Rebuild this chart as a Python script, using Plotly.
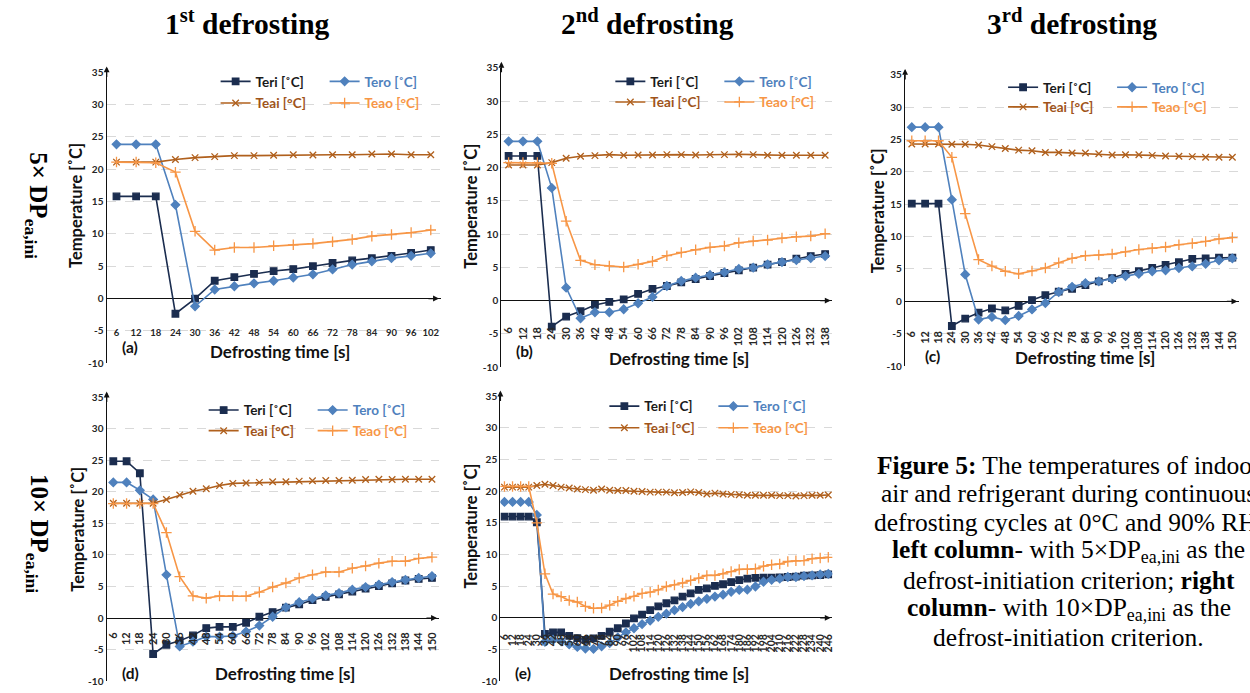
import plotly.graph_objects as go

W, H = 1250, 693
FONT = "Lato"
SERIF = "Liberation Serif"

# ---------------- data ----------------
Y_TICKS = [-10, -5, 0, 5, 10, 15, 20, 25, 30, 35]

A_TIME = [6, 12, 18, 24, 30, 36, 42, 48, 54, 60, 66, 72, 78, 84, 90, 96, 102]
A_TERI = [15.8, 15.8, 15.8, -2.35, 0.0, 2.75, 3.3, 3.8, 4.25, 4.55, 5.0, 5.5, 5.9, 6.25, 6.6, 7.05, 7.5]
A_TERO = [23.85, 23.85, 23.85, 14.5, -1.2, 1.4, 1.9, 2.35, 2.75, 3.25, 3.75, 4.5, 5.25, 5.75, 6.25, 6.6, 7.0]
A_TEAI = [21.1, 21.1, 21.1, 21.5, 21.8, 21.95, 22.1, 22.1, 22.15, 22.25, 22.2, 22.25, 22.25, 22.35, 22.35, 22.25, 22.25]
A_TEAO = [21.1, 21.1, 21.0, 19.55, 10.4, 7.5, 7.9, 7.9, 8.15, 8.3, 8.5, 8.8, 9.15, 9.65, 9.9, 10.2, 10.6]

B_TIME = [6, 12, 18, 24, 30, 36, 42, 48, 54, 60, 66, 72, 78, 84, 90, 96, 102, 108, 114, 120, 126, 132, 138]
B_TERI = [21.75, 21.75, 21.75, -3.9, -2.4, -1.6, -0.65, -0.2, 0.2, 1.0, 1.75, 2.2, 2.75, 3.25, 3.7, 4.15, 4.55, 4.95, 5.4, 5.8, 6.3, 6.7, 7.0]
B_TERO = [23.95, 23.95, 23.95, 16.95, 1.95, -2.65, -1.75, -1.75, -1.3, -0.4, 0.55, 2.2, 2.95, 3.45, 3.85, 4.25, 4.75, 4.95, 5.45, 5.8, 6.1, 6.4, 6.7]
B_TEAI = [20.4, 20.4, 20.4, 20.75, 21.4, 21.7, 21.8, 21.95, 21.85, 21.9, 21.9, 21.95, 21.95, 21.9, 21.95, 21.95, 22.0, 21.95, 21.85, 21.85, 21.85, 21.85, 21.85]
B_TEAO = [20.75, 20.75, 20.75, 20.65, 11.95, 6.05, 5.4, 5.2, 5.05, 5.45, 5.9, 6.75, 7.25, 7.65, 8.0, 8.2, 8.7, 8.95, 9.1, 9.4, 9.6, 9.7, 10.05]

C_TIME = [6, 12, 18, 24, 30, 36, 42, 48, 54, 60, 66, 72, 78, 84, 90, 96, 102, 108, 114, 120, 126, 132, 138, 144, 150]
C_TERI = [15.1, 15.1, 15.1, -3.8, -2.65, -1.75, -1.1, -1.4, -0.7, 0.2, 0.95, 1.5, 1.95, 2.5, 3.1, 3.6, 4.25, 4.65, 5.15, 5.65, 6.05, 6.55, 6.65, 6.75, 6.75]
C_TERO = [26.9, 26.9, 26.9, 15.7, 4.15, -2.8, -2.4, -2.9, -2.25, -1.25, -0.25, 1.45, 2.25, 2.8, 3.1, 3.45, 3.9, 4.25, 4.65, 4.8, 5.15, 5.4, 5.8, 6.35, 6.65]
C_TEAI = [24.3, 24.3, 24.3, 24.25, 24.25, 24.15, 23.9, 23.6, 23.35, 23.25, 23.0, 23.0, 22.9, 22.9, 22.8, 22.6, 22.65, 22.65, 22.55, 22.45, 22.4, 22.35, 22.25, 22.25, 22.25]
C_TEAO = [24.8, 24.8, 24.8, 22.25, 13.55, 6.45, 5.45, 4.65, 4.25, 4.7, 5.15, 5.95, 6.65, 7.05, 7.15, 7.3, 7.65, 8.0, 8.2, 8.4, 8.75, 8.95, 9.25, 9.65, 9.85]

D_TIME = [6, 12, 18, 24, 30, 36, 42, 48, 54, 60, 66, 72, 78, 84, 90, 96, 102, 108, 114, 120, 126, 132, 138, 144, 150]
D_TERI = [24.85, 24.85, 22.95, -5.7, -4.25, -3.6, -2.75, -1.6, -1.4, -1.4, -0.75, 0.2, 0.95, 1.65, 2.15, 2.85, 3.35, 3.75, 4.2, 4.65, 5.05, 5.5, 5.95, 6.2, 6.35]
D_TERO = [21.5, 21.5, 20.25, 18.8, 6.85, -4.5, -3.75, -2.95, -2.95, -2.85, -2.15, -1.2, 0.2, 1.7, 2.5, 3.1, 3.6, 3.95, 4.5, 4.9, 5.3, 5.7, 6.05, 6.35, 6.65]
D_TEAI = [18.2, 18.2, 18.2, 18.2, 18.8, 19.5, 20.1, 20.5, 21.0, 21.35, 21.4, 21.5, 21.6, 21.6, 21.7, 21.75, 21.8, 21.8, 21.85, 21.95, 22.0, 21.95, 22.0, 22.0, 22.0]
D_TEAO = [18.15, 18.15, 18.15, 18.15, 13.55, 6.55, 3.5, 3.15, 3.5, 3.5, 3.45, 4.1, 4.9, 5.55, 6.35, 6.85, 7.3, 7.3, 7.9, 8.25, 8.7, 9.0, 9.0, 9.45, 9.65]

E_TIME = [6, 12, 18, 24, 30, 36, 42, 48, 54, 60, 66, 72, 78, 84, 90, 96, 102, 108, 114, 120,
          126, 132, 138, 144, 150, 156, 162, 168, 174, 180, 186, 192, 198, 204, 210, 216, 222, 228, 234, 240, 246]
E_TERI = [16.0, 16.0, 16.0, 16.0, 15.1, -2.55, -2.3, -2.3, -2.85, -3.2, -3.5, -3.25, -2.85, -2.2, -1.65, -0.9, -0.1, 0.5, 1.2, 1.8,
          2.3, 2.75, 3.35, 3.85, 4.4, 4.65, 5.05, 5.3, 5.65, 5.95, 6.2, 6.3, 6.35, 6.35, 6.4, 6.45, 6.5, 6.65, 6.7, 6.75, 6.85]
E_TERO = [18.3, 18.3, 18.3, 18.3, 16.25, -3.8, -3.45, -3.7, -4.2, -4.6, -4.85, -4.9, -4.5, -4.0, -3.1, -2.3, -1.65, -1.0, -0.45, 0.15,
          0.65, 1.2, 1.7, 2.2, 2.6, 3.0, 3.35, 3.65, 4.1, 4.4, 4.45, 4.95, 5.7, 6.0, 6.2, 6.45, 6.45, 6.6, 6.7, 6.85, 6.95]
E_TEAI = [20.65, 20.65, 20.65, 20.65, 20.9, 21.1, 20.9, 20.65, 20.5, 20.35, 20.25, 20.15, 20.35, 20.15, 20.1, 20.1, 20.0, 19.95, 19.85, 19.85,
          19.85, 19.75, 19.8, 19.9, 19.8, 19.55, 19.7, 19.55, 19.5, 19.45, 19.35, 19.35, 19.35, 19.35, 19.3, 19.3, 19.25, 19.3, 19.35, 19.35, 19.4]
E_TEAO = [20.75, 20.75, 20.75, 20.75, 15.0, 6.95, 3.75, 3.35, 2.75, 2.5, 1.8, 1.5, 1.55, 2.0, 2.6, 3.05, 3.4, 3.85, 4.05, 4.4,
          4.95, 5.2, 5.5, 5.9, 6.25, 6.7, 6.7, 6.95, 7.3, 7.65, 7.65, 7.75, 8.15, 8.4, 8.5, 8.9, 9.0, 9.05, 9.35, 9.45, 9.55]

SERIES_NAMES = ["Teri [˚C]", "Tero [˚C]", "Teai [°C]", "Teao [°C]"]
PANEL_LETTERS = ["(a)", "(b)", "(c)", "(d)", "(e)"]
COL_TITLES = ["1<sup>st</sup> defrosting", "2<sup>nd</sup> defrosting", "3<sup>rd</sup> defrosting"]
ROW_TITLES = ["5× DP<sub>ea,ini</sub>", "10× DP<sub>ea,ini</sub>"]
X_TITLE = "Defrosting time [s]"
Y_TITLE = "Temperature [˚C]"
CAPTION = [
    "<b>Figure 5:</b> The temperatures of indoor",
    "air and refrigerant during continuous",
    "defrosting cycles at 0°C and 90% RH;",
    "<b>left column</b>- with 5×DP<sub>ea,ini</sub> as the",
    "defrost-initiation criterion; <b>right</b>",
    "<b>column</b>- with 10×DP<sub>ea,ini</sub> as the",
    "defrost-initiation criterion.",
]

PANEL_DATA = [
    (A_TIME, [A_TERI, A_TERO, A_TEAI, A_TEAO]),
    (B_TIME, [B_TERI, B_TERO, B_TEAI, B_TEAO]),
    (C_TIME, [C_TERI, C_TERO, C_TEAI, C_TEAO]),
    (D_TIME, [D_TERI, D_TERO, D_TEAI, D_TEAO]),
    (E_TIME, [E_TERI, E_TERO, E_TEAI, E_TEAO]),
]

# ---------------- styles / layout (pixels) ----------------
LINE_COLORS = ["#1b2d4f", "#4f81bd", "#b0601d", "#f79646"]
TEXT_COLORS = ["#1a1a1a", "#4f81bd", "#a0541a", "#f79646"]
SYMBOLS = ["square", "diamond", "x-thin-open", "cross-thin-open"]
MSIZES = [6.5, 6.5, 6.5, 7.5]

GEOM = [
    dict(x0=104, x1=439, yt=66.5, yb=363, ax=325, ang=0, ts=9.5, let=(127, 347), xt=(278, 351),
         yt_xy=(73, 202), lr=432, ly=(76, 98)),
    dict(x0=500, x1=832, yt=62, yb=367, ax=323, ang=-90, ts=11, let=(523, 351), xt=(678, 358),
         yt_xy=(470, 203), lr=828, ly=(76, 97)),
    dict(x0=905, x1=1240, yt=69, yb=366, ax=327, ang=-90, ts=11, let=(932, 356), xt=(1085, 357),
         yt_xy=(878, 208), lr=1222, ly=(82, 102)),
    dict(x0=104, x1=437, yt=397.7, yb=687, ax=634, ang=-90, ts=11, let=(128, 679), xt=(283, 679),
         yt_xy=(75, 532), lr=420, ly=(411, 432)),
    dict(x0=499, x1=832, yt=396.7, yb=687, ax=636, ang=-90, ts=10.5, let=(522, 679), xt=(678, 679),
         yt_xy=(470, 529), lr=822, ly=(407, 429)),
]


def xp(px):
    return px / W


def yp(py):
    return 1 - py / H


fig = go.Figure()
layout = dict(
    width=W, height=H, margin=dict(l=0, r=0, t=0, b=0),
    paper_bgcolor="white", plot_bgcolor="white", showlegend=True,
)
annotations = []

for i, ((times, series), g, letter) in enumerate(zip(PANEL_DATA, GEOM, PANEL_LETTERS), start=1):
    sx = "" if i == 1 else str(i)
    cats = [str(t) for t in times]
    leg_ids = []
    for r in range(2):
        k = 2 * (i - 1) + 1 + r
        leg_ids.append("legend" if k == 1 else f"legend{k}")
    for s, (name, vals) in enumerate(zip(SERIES_NAMES, series)):
        fig.add_trace(go.Scatter(
            x=cats, y=vals, mode="lines+markers",
            name=f"<span style='color:{TEXT_COLORS[s]}'>{name}</span>",
            line=dict(color=LINE_COLORS[s], width=1.6),
            marker=dict(symbol=SYMBOLS[s], size=MSIZES[s], color=LINE_COLORS[s],
                        line=dict(color=LINE_COLORS[s], width=1.3)),
            xaxis="x" + sx, yaxis="y" + sx,
            legend=leg_ids[s // 2], hoverinfo="skip",
        ))
    layout["xaxis" + sx] = dict(
        domain=[xp(g["x0"]), xp(g["x1"])], type="category",
        categoryorder="array", categoryarray=cats,
        tickmode="linear", tick0=0, dtick=1,
        range=[-0.5, len(cats) - 0.5], anchor="free", position=yp(g["ax"]),
        showgrid=False, zeroline=False, showline=False, ticks="",
        tickangle=g["ang"], tickfont=dict(family=FONT, size=g["ts"], color="#262626", weight="bold"),
        fixedrange=True,
    )
    layout["yaxis" + sx] = dict(
        domain=[yp(g["yb"]), yp(g["yt"])], range=[-10, 35], anchor="x" + sx,
        tickvals=Y_TICKS, ticktext=[str(v) for v in Y_TICKS],
        showgrid=True, gridcolor="#d9d9d9", griddash="dash", gridwidth=1,
        zeroline=True, zerolinecolor="#111111", zerolinewidth=1.4,
        showline=True, linecolor="#111111", linewidth=1.4, ticks="",
        tickfont=dict(family=FONT, size=10, color="#262626", weight="bold"),
        fixedrange=True,
    )
    for r in range(2):
        layout[leg_ids[r]] = dict(
            orientation="h", x=xp(g["lr"]), y=yp(g["ly"][r]), xanchor="right", yanchor="middle",
            bgcolor="rgba(0,0,0,0)", borderwidth=0, entrywidth=64, entrywidthmode="pixels",
            font=dict(family=FONT, size=13.5, weight="bold"), itemclick=False, itemdoubleclick=False,
        )
    # axis arrows
    annotations.append(dict(xref=f"x{sx} domain", yref=f"y{sx} domain", x=0, y=1.02, ax=0, ay=12,
                            showarrow=True, arrowhead=2, arrowsize=0.9, arrowwidth=1.3,
                            arrowcolor="#111111", text=""))
    annotations.append(dict(xref=f"x{sx} domain", yref="y" + sx, x=0.995, y=0, ax=-12, ay=0,
                            showarrow=True, arrowhead=2, arrowsize=0.9, arrowwidth=1.3,
                            arrowcolor="#111111", text=""))
    annotations.append(dict(xref="paper", yref="paper", x=xp(g["let"][0]), y=yp(g["let"][1]),
                            text=letter, showarrow=False, xanchor="center", yanchor="middle",
                            font=dict(family=FONT, size=15.5, color="#111111", weight="bold")))
    annotations.append(dict(xref="paper", yref="paper", x=xp(g["xt"][0]), y=yp(g["xt"][1]),
                            text=X_TITLE, showarrow=False, xanchor="center", yanchor="middle",
                            font=dict(family=FONT, size=17, color="#111111", weight="bold")))
    annotations.append(dict(xref="paper", yref="paper", x=xp(g["yt_xy"][0]), y=yp(g["yt_xy"][1]),
                            text=Y_TITLE, showarrow=False, xanchor="center", yanchor="middle", textangle=-90,
                            font=dict(family=FONT, size=16.5, color="#111111", weight="bold")))

# column titles
for t, cx in zip(COL_TITLES, [245, 647, 1072]):
    annotations.append(dict(xref="paper", yref="paper", x=xp(cx), y=yp(15), text=t, showarrow=False,
                            xanchor="center", yanchor="middle",
                            font=dict(family=SERIF, size=29.5, color="black", weight="bold")))
# row titles
for t, cy in zip(ROW_TITLES, [203, 537]):
    annotations.append(dict(xref="paper", yref="paper", x=xp(34), y=yp(cy), text=t, showarrow=False,
                            textangle=90, xanchor="center", yanchor="middle",
                            font=dict(family=SERIF, size=25, color="black", weight="bold")))
# caption
for j, line in enumerate(CAPTION):
    annotations.append(dict(xref="paper", yref="paper", x=xp(1069), y=yp(467 + 29.3 * j), text=line,
                            showarrow=False, xanchor="center", yanchor="middle",
                            font=dict(family=SERIF, size=25.5, color="black")))

layout["annotations"] = annotations
fig.update_layout(**layout)
fig.write_html("out.html", config={"displayModeBar": False},
               post_script="document.body.style.margin='0px';")
